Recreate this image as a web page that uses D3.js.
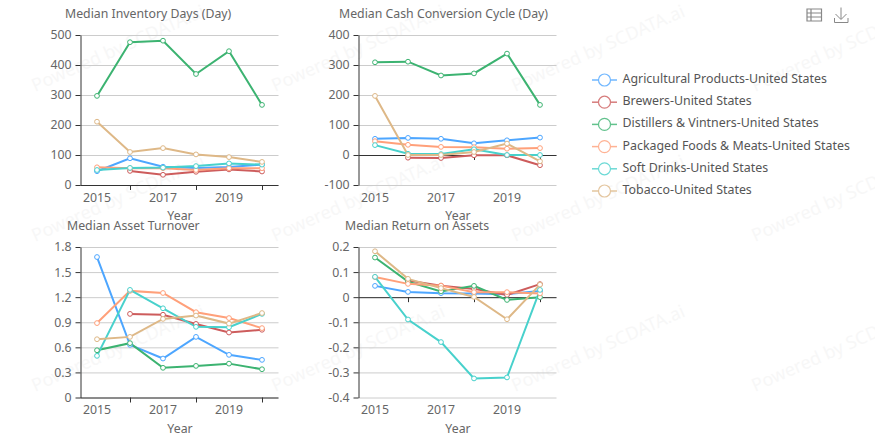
<!DOCTYPE html>
<html>
<head>
<meta charset="utf-8">
<script src="https://cdn.jsdelivr.net/npm/d3@7"></script>
<style>
	html, body { margin: 0; padding: 0; background: #fff; }
	text { font-family: "Noto Sans", sans-serif; }
	.tick text { font-size: 12.3px; fill: #666; }
</style>
</head>
<body>
<div class="container"></div>
<script>
const years = [2015, 2016, 2017, 2018, 2019, 2020]
const labelYears = [2015, 2017, 2019]
const tickYears = [2016, 2018, 2020]

const seriesNames = [
	'Agricultural Products-United States',
	'Brewers-United States',
	'Distillers & Vintners-United States',
	'Packaged Foods & Meats-United States',
	'Soft Drinks-United States',
	'Tobacco-United States'
]
const seriesColors = ['#4da6ff', 'indianred', 'mediumseagreen', 'lightsalmon', 'mediumturquoise', 'burlywood']

const titles = [
	'Median Inventory Days (Day)',
	'Median Cash Conversion Cycle (Day)',
	'Median Asset Turnover',
	'Median Return on Assets'
]

const inventoryDays = [
	[46, 89, 61, 57, 60, 68],
	[null, 47, 34, 44, 52, 45],
	[297, 476, 481, 370, 446, 267],
	[59, 56, 56, 50, 56, 56],
	[50, 57, 58, 63, 72, 68],
	[211, 110, 123, 102, 93, 77]
]
const cashCycle = [
	[54, 57, 54, 39, 49, 58],
	[null, -9, -10, -1, -1, -34],
	[309, 311, 265, 272, 338, 167],
	[46, 34, 27, 26, 21, 23],
	[33, 4, 3, 19, 0, 0],
	[197, 0, 0, 10, 38, -21]
]
const assetTurnover = [
	[1.68, 0.63, 0.466, 0.725, 0.51, 0.45],
	[null, 1.0, 0.99, 0.88, 0.777, 0.81],
	[0.565, 0.65, 0.355, 0.378, 0.405, 0.338],
	[0.89, 1.275, 1.25, 1.02, 0.95, 0.83],
	[0.498, 1.287, 1.067, 0.845, 0.84, 1.0],
	[0.697, 0.725, 0.94, 0.98, 0.884, 1.01]
]
const returnOnAssets = [
	[0.045, 0.021, 0.016, 0.015, 0.012, 0.025],
	[null, 0.066, 0.046, 0.033, 0.009, 0.052],
	[0.158, 0.062, 0.023, 0.045, -0.011, 0],
	[0.08, 0.053, 0.046, 0.02, 0.02, 0.015],
	[0.081, -0.089, -0.179, -0.324, -0.32, 0.029],
	[0.183, 0.073, 0.036, 0.001, -0.088, 0.05]
]

const inventoryTicks = [0, 100, 200, 300, 400, 500]
const cashTicks = [-100, 0, 100, 200, 300, 400]
const turnoverTicks = [0, 0.3, 0.6, 0.9, 1.2, 1.5, 1.8]
const returnTicks = [-0.4, -0.3, -0.2, -0.1, 0, 0.1, 0.2]

const panels = [
	{ title: titles[0], values: inventoryDays, ticks: inventoryTicks, left: 80.5, top: 35, bottom: 185, titleX: 65, titleY: 18 },
	{ title: titles[1], values: cashCycle, ticks: cashTicks, left: 358.5, top: 35, bottom: 185, titleX: 339, titleY: 18 },
	{ title: titles[2], values: assetTurnover, ticks: turnoverTicks, left: 80.5, top: 247, bottom: 397.5, titleX: 67, titleY: 230 },
	{ title: titles[3], values: returnOnAssets, ticks: returnTicks, left: 358.5, top: 247, bottom: 397.5, titleX: 345, titleY: 230 }
]

const panelWidth = 198

let svg = d3.select('.container')
	.append('svg')
	.attr('width', 875)
	.attr('height', 442)
	.style('display', 'block')

// watermark
let marks = svg.append('g')
d3.range(0, 3).forEach(row => {
	d3.range(0, 4).forEach(col => {
		marks.append('text')
			.attr('transform', `translate(${35 + col * 240},${92 + row * 150}) rotate(-24)`)
			.attr('font-size', 18)
			.attr('fill', '#f7f7f7')
			.text('Powered by SCDATA.ai')
	})
})

function drawPanel(p) {
	let x = d3.scalePoint()
		.domain(years)
		.range([p.left, p.left + panelWidth])
		.padding(0.5)

	let y = d3.scaleLinear()
		.domain(d3.extent(p.ticks))
		.range([p.bottom, p.top])

	let g = svg.append('g')

	// y axis and grid
	let yGrid = g.append('g')
		.attr('transform', `translate(${p.left},0)`)
		.call(d3.axisLeft(y).tickValues(p.ticks).tickSize(-panelWidth).tickFormat(''))
	yGrid.select('.domain').remove()
	yGrid.selectAll('line').attr('stroke', '#ccc')

	let yAxis = g.append('g')
		.attr('transform', `translate(${p.left},0)`)
		.call(d3.axisLeft(y).tickValues(p.ticks).tickSize(5).tickPadding(4).tickSizeOuter(0).tickFormat(d => d))
	yAxis.selectAll('line, path').attr('stroke', '#333')

	// x axis sits on zero, labels stay at the bottom
	let xTicks = g.append('g')
		.attr('transform', `translate(0,${y(0)})`)
		.call(d3.axisBottom(x).tickValues(tickYears).tickSize(5).tickSizeOuter(0).tickFormat(''))
	xTicks.selectAll('line').attr('stroke', '#333')
	xTicks.select('.domain').attr('stroke', '#333')
		.attr('d', `M${p.left},0.5H${p.left + panelWidth}`)

	let xLabels = g.append('g')
		.attr('transform', `translate(-0.5,${p.bottom})`)
		.call(d3.axisBottom(x).tickValues(labelYears).tickSize(0).tickPadding(8))
	xLabels.select('.domain').remove()

	g.append('text')
		.attr('x', p.left + panelWidth / 2 + 0.5)
		.attr('y', p.bottom + 35)
		.attr('text-anchor', 'middle')
		.attr('font-size', 12.3)
		.attr('fill', '#666')
		.text('Year')

	g.append('text')
		.attr('x', p.titleX)
		.attr('y', p.titleY)
		.attr('font-size', 12.3)
		.attr('fill', '#666')
		.text(p.title)

	let line = d3.line()
		.defined(d => d !== null)
		.x((d, i) => x(years[i]))
		.y(d => y(d))

	p.values.forEach((vals, s) => {
		g.append('path')
			.attr('d', line(vals))
			.attr('fill', 'none')
			.attr('stroke', seriesColors[s])
			.attr('stroke-width', 2)
	})
	p.values.forEach((vals, s) => {
		vals.forEach((v, i) => {
			if (v === null) return
			g.append('circle')
				.attr('cx', x(years[i]))
				.attr('cy', y(v))
				.attr('r', 2.4)
				.attr('fill', '#fff')
				.attr('stroke', seriesColors[s])
				.attr('stroke-width', 1)
		})
	})
}

panels.forEach(drawPanel)

// legend
let legendY = d3.scalePoint()
	.domain(seriesNames)
	.range([80, 191])

seriesNames.forEach((name, s) => {
	let row = svg.append('g')
		.attr('transform', `translate(592,${legendY(name)})`)
		.attr('opacity', 0.8)
	row.append('line')
		.attr('x1', 0).attr('x2', 25)
		.attr('stroke', seriesColors[s])
		.attr('stroke-width', 1.5)
	row.append('circle')
		.attr('cx', 12.5)
		.attr('r', 6)
		.attr('fill', '#fff')
		.attr('stroke', seriesColors[s])
		.attr('stroke-width', 1.2)
	svg.append('text')
		.attr('x', 622.5)
		.attr('y', legendY(name) + 3)
		.attr('font-size', 12.4)
		.attr('fill', '#555')
		.text(name)
})

// toolbox icons
let icons = svg.append('g')
	.attr('fill', 'none')
	.attr('stroke', '#888')
	.attr('stroke-width', 1.2)
icons.append('path')
	.attr('d', 'M807,9H821.5V21H807ZM807,13H821.5M807,17H821.5M811,9V21')
icons.append('path')
	.attr('d', 'M841,7.5V19M835.5,14L841,19.5L846.5,14M834.5,18V22.5H848V18')
	.attr('stroke-width', 1)
</script>
</body>
</html>
